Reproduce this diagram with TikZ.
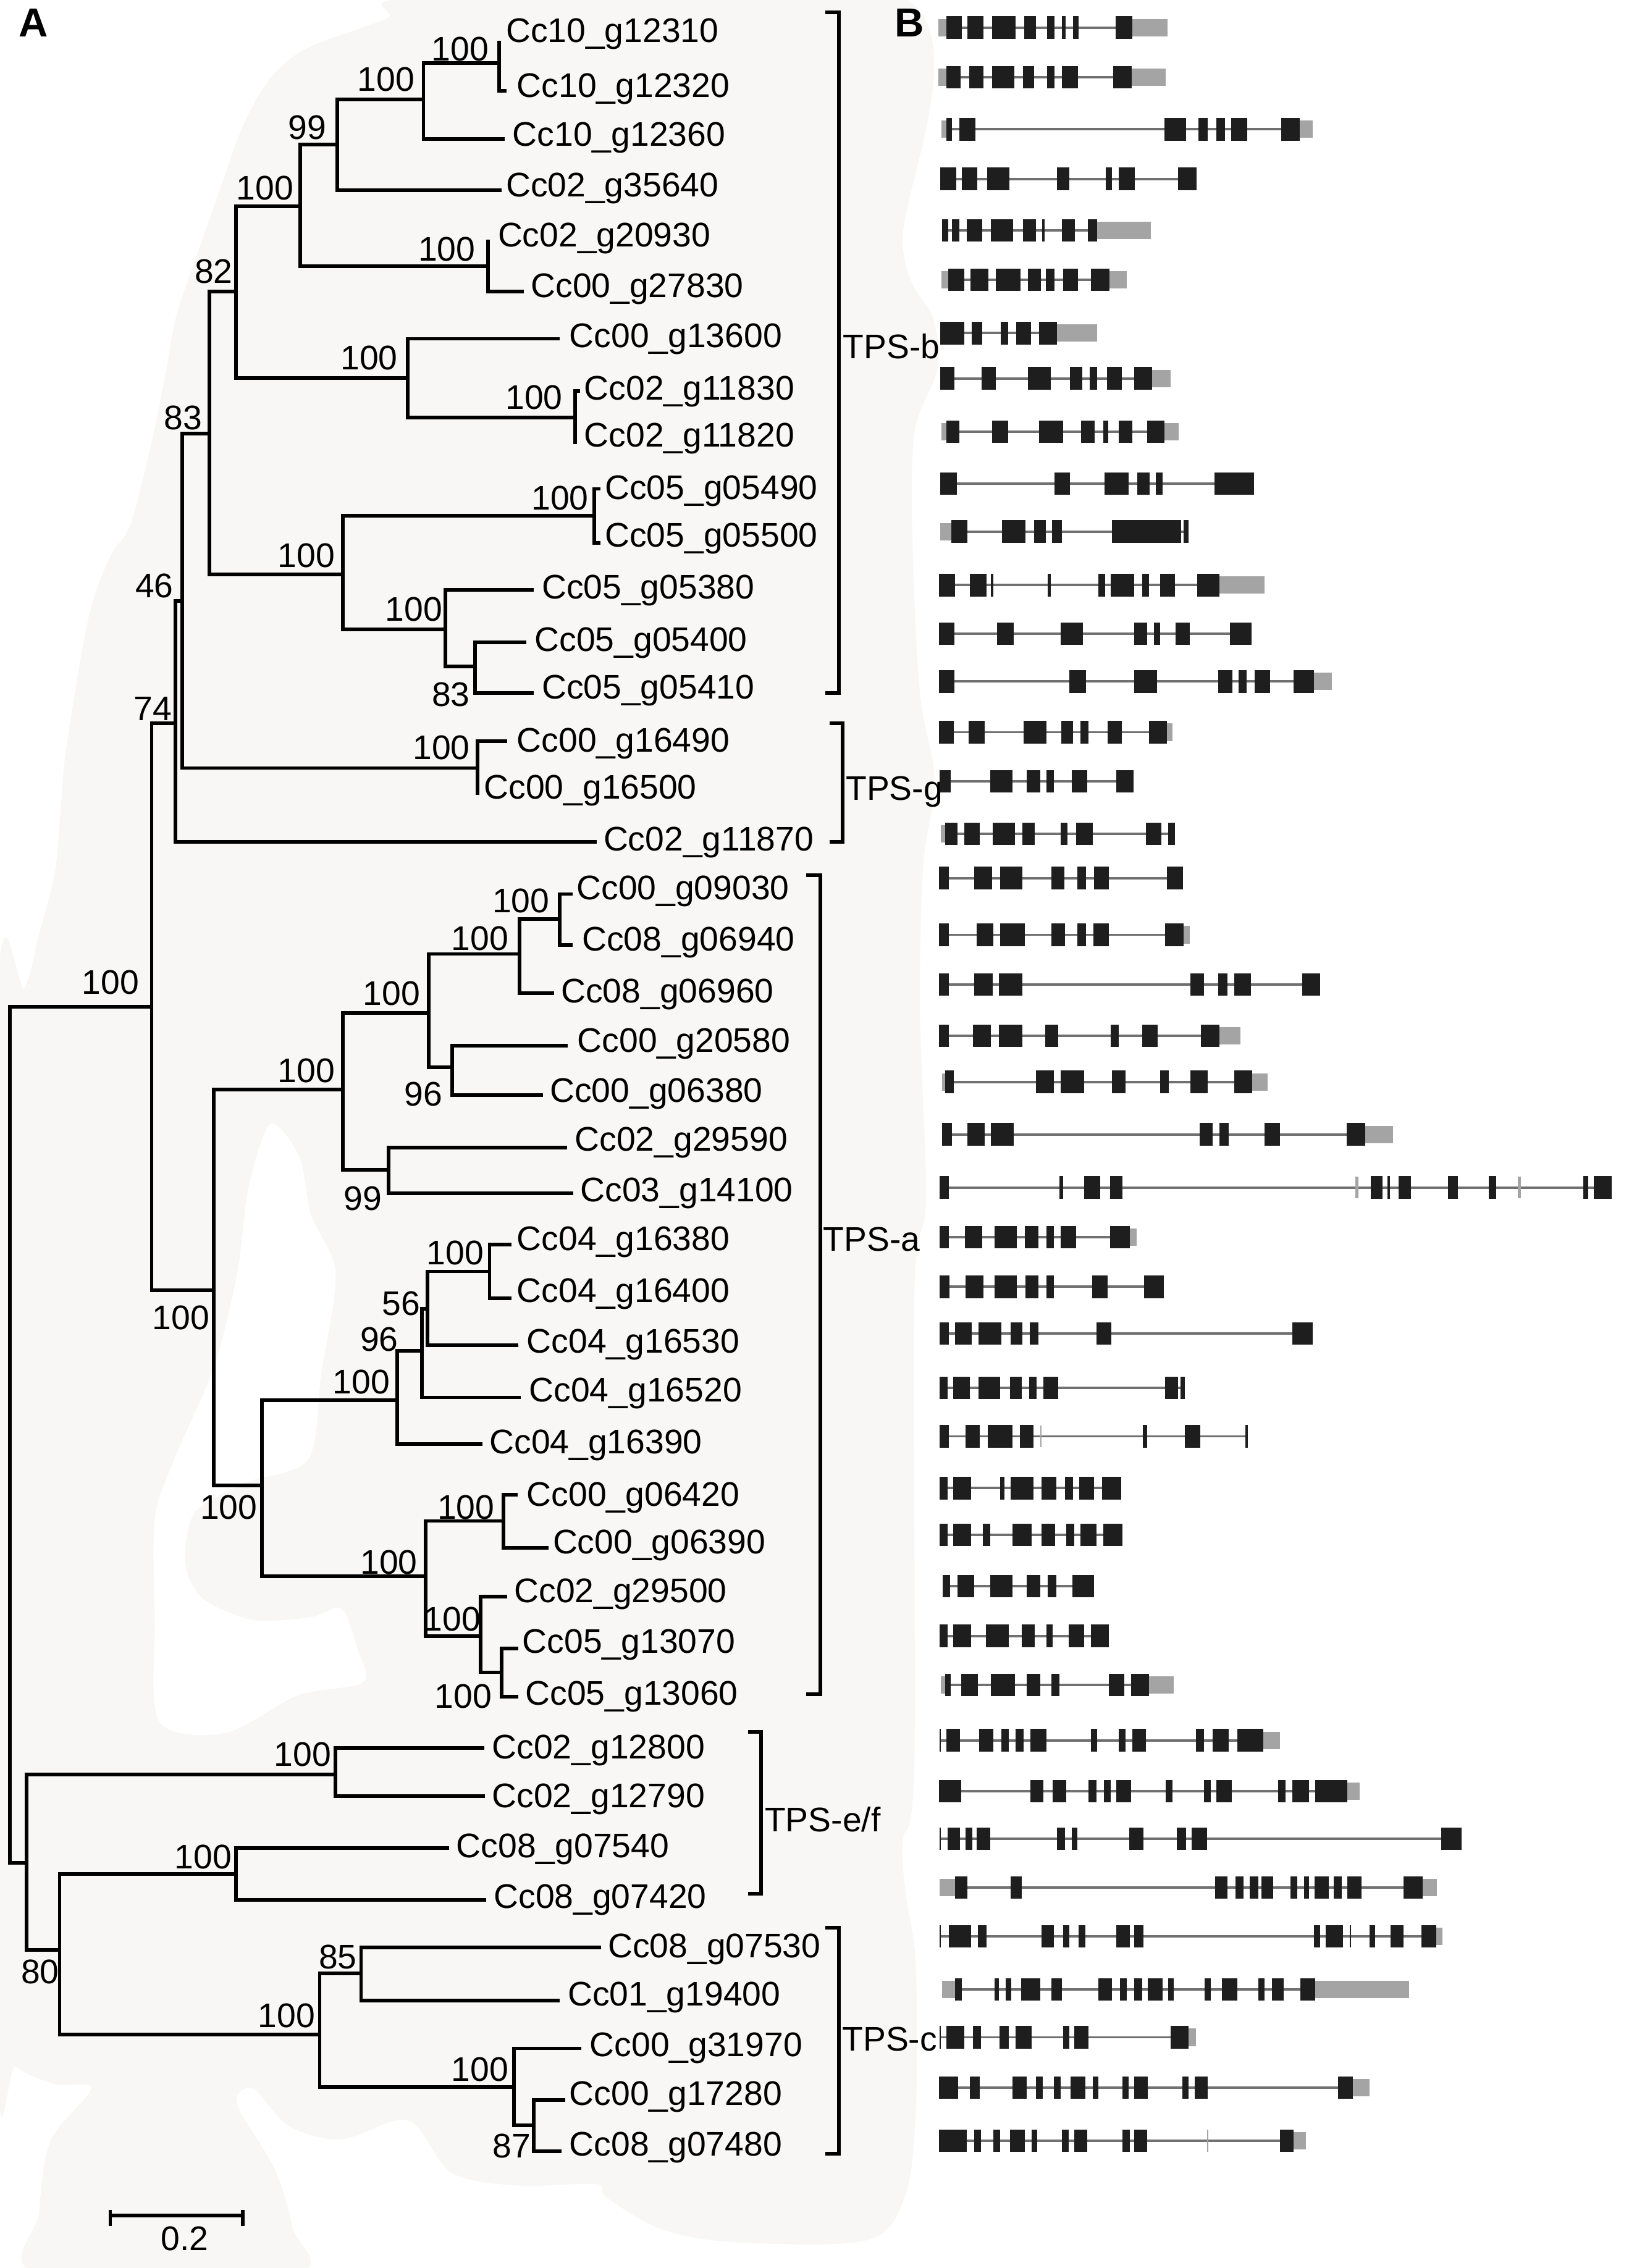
\documentclass[tikz,border=0pt]{standalone}
\usepackage{fontspec}
\setmainfont{Liberation Sans}
\definecolor{bgc}{HTML}{F8F7F5}
\definecolor{exonc}{HTML}{1E1E1E}
\definecolor{utrc}{HTML}{A4A4A4}
\definecolor{intronc}{HTML}{707070}
\newcommand\lblfont{\fontsize{23.6pt}{28pt}\selectfont}
\newcommand\panelfont{\fontsize{28pt}{30pt}\selectfont\bfseries}
\newcommand\genrow[4]{%
  \draw[intron] (#2,#1) -- (#3,#1);
  \foreach \a/\b in {#4} {\fill[exon] (\a,#1-7.8) rectangle (\b,#1+7.8);}}
\newcommand\utr[3]{\fill[utr] (#2,#1-6) rectangle (#3,#1+6);}
\begin{document}
\begin{tikzpicture}[x=1pt,y=-1pt,
  br/.style={line width=2.5pt,black},
  lab/.style={inner sep=0pt,anchor=base west,font=\lblfont},
  bs/.style={inner sep=0pt,anchor=base east,font=\lblfont},
  exon/.style={fill=exonc},
  utr/.style={fill=utrc},
  intron/.style={draw=intronc,line width=1.6pt}]
\useasboundingbox (0,0) rectangle (1126,1568);
\fill[white] (0,0) rectangle (1126,1568);
% light background
\fill[bgc] plot[smooth cycle,tension=0.55] coordinates {(293,-2) (624,-2) (624,170) (645,220) (648,255) (632,300) (631,384) (636,480) (646,540) (638,600) (636,700) (640,830) (632,896) (632,1220) (624,1273) (626,1309) (633,1358) (633,1460) (625,1520) (598,1549) (507,1550) (457,1541) (419,1519) (412,1510) (358,1511) (312,1502) (282,1466) (236,1479) (200,1470) (175,1444) (164,1455) (190,1500) (202,1540) (203,1572) (27,1572) (27,1530) (35,1480) (63,1444) (38,1441) (11,1429) (-2,1410) (-2,700) (17,683) (27,646) (38,603) (42,559) (46,516) (61,428) (76,385) (90,363) (105,305) (114,261) (122,218) (137,174) (152,131) (168,87) (187,54) (213,33) (267,13)};
\fill[white] plot[smooth cycle,tension=0.5] coordinates {(187,777) (207,800) (215,840) (232,880) (222,950) (213,1009) (170,1025) (135,1045) (128,1080) (140,1105) (175,1120) (215,1118) (236,1112) (247,1140) (251,1163) (206,1172) (156,1198) (110,1190) (107,1120) (107,1050) (120,1010) (148,945) (164,880) (172,820)};

% panel letters
\node[inner sep=0pt,anchor=base west,font=\panelfont] (pA) at (13,25.5) {A};
\node[inner sep=0pt,anchor=base west,font=\panelfont] (pB) at (618.5,25.5) {B};

% leaf coordinates
\coordinate (L1) at (345,28);
\coordinate (L2) at (350,62.7);
\coordinate (L3) at (348.7,95.9);
\coordinate (L4) at (346.8,131.4);
\coordinate (L5) at (337.3,165.6);
\coordinate (L6) at (362,201.5);
\coordinate (L7) at (386.8,234.2);
\coordinate (L8) at (401,270.2);
\coordinate (L9) at (397.5,307.2);
\coordinate (L10) at (415,338);
\coordinate (L11) at (415,375.2);
\coordinate (L12) at (369,407.8);
\coordinate (L13) at (364,444.2);
\coordinate (L14) at (369,479);
\coordinate (L15) at (350.6,512.4);
\coordinate (L16) at (330,549.5);
\coordinate (L17) at (412.7,582.1);
\coordinate (L18) at (396,618.1);
\coordinate (L19) at (396,653.4);
\coordinate (L20) at (383,686.8);
\coordinate (L21) at (392.5,722.8);
\coordinate (L22) at (375.4,757);
\coordinate (L23) at (391.8,793.4);
\coordinate (L24) at (396.3,825);
\coordinate (L25) at (353.7,860.5);
\coordinate (L26) at (353.7,897.5);
\coordinate (L27) at (358.2,930.2);
\coordinate (L28) at (360,966.1);
\coordinate (L29) at (333.5,998.4);
\coordinate (L30) at (358,1033.5);
\coordinate (L31) at (379,1070.1);
\coordinate (L32) at (350.6,1103.8);
\coordinate (L33) at (358.2,1139.8);
\coordinate (L34) at (358.2,1172.9);
\coordinate (L35) at (334.6,1208.4);
\coordinate (L36) at (335.4,1241.7);
\coordinate (L37) at (310.6,1277.5);
\coordinate (L38) at (336.1,1313.6);
\coordinate (L39) at (415.4,1346.2);
\coordinate (L40) at (386.8,1383.1);
\coordinate (L41) at (402,1416.2);
\coordinate (L42) at (390.6,1452);
\coordinate (L43) at (388,1487.4);
% internal nodes
\coordinate (na) at (345,43.6);
\coordinate (nb) at (292.7,68.6);
\coordinate (nc) at (233.2,99.8);
\coordinate (nd) at (207.7,142.7);
\coordinate (ne) at (337.3,184.1);
\coordinate (nf) at (163.1,201.5);
\coordinate (ng) at (282,261.4);
\coordinate (nh) at (397.5,288.7);
\coordinate (ni) at (144.8,299.6);
\coordinate (nl) at (410.8,356.6);
\coordinate (nm) at (237,397);
\coordinate (nn) at (308,435.1);
\coordinate (no) at (328.5,460.8);
\coordinate (np) at (125.8,415.5);
\coordinate (nq) at (121.2,500);
\coordinate (nr) at (330,531);
\coordinate (ns) at (104.8,696);
\coordinate (nt) at (386.8,635.5);
\coordinate (nu) at (359,659.5);
\coordinate (nv) at (296.5,700.3);
\coordinate (nw) at (312.5,737.8);
\coordinate (nx) at (237,753.1);
\coordinate (nyy) at (268.7,808.8);
\coordinate (nz) at (147.9,892.1);
\coordinate (nab) at (338.4,879);
\coordinate (nac) at (295.4,905);
\coordinate (nad) at (291.5,933.9);
\coordinate (nae) at (274.4,967.9);
\coordinate (naf) at (181,1027);
\coordinate (nag) at (294.2,1089.7);
\coordinate (nah) at (348,1051.5);
\coordinate (nai) at (332.3,1131);
\coordinate (naj) at (346.8,1156.1);
\coordinate (nak) at (231.7,1226.9);
\coordinate (nal) at (18.3,1288);
\coordinate (nam) at (163.1,1295.5);
\coordinate (nan) at (41.2,1348);
\coordinate (nao) at (221,1406.4);
\coordinate (nap) at (249.6,1364.4);
\coordinate (naq) at (355.2,1443);
\coordinate (nar) at (368.9,1469.5);
\coordinate (nroot) at (6.9,992);

% branches
\draw[br] (L1) -| (na) |- (L2);
\draw[br] (na) -| (nb) |- (L3);
\draw[br] (nb) -| (nc) |- (L4);
\draw[br] (L5) -| (ne) |- (L6);
\draw[br] (nc) -| (nd) |- (ne);
\draw[br] (L8) -| (nh) |- (L9);
\draw[br] (L7) -| (ng) |- (nh);
\draw[br] (nd) -| (nf) |- (ng);
\draw[br] (L10) -| (nl) |- (L11);
\draw[br] (L13) -| (no) |- (L14);
\draw[br] (L12) -| (nn) |- (no);
\draw[br] (nl) -| (nm) |- (nn);
\draw[br] (nf) -| (ni) |- (nm);
\draw[br] (L15) -| (nr) |- (L16);
\draw[br] (ni) -| (np) |- (nr);
\draw[br] (np) -| (nq) |- (L17);
\draw[br] (L18) -| (nt) |- (L19);
\draw[br] (nt) -| (nu) |- (L20);
\draw[br] (L21) -| (nw) |- (L22);
\draw[br] (nu) -| (nv) |- (nw);
\draw[br] (L23) -| (nyy) |- (L24);
\draw[br] (nv) -| (nx) |- (nyy);
\draw[br] (L25) -| (nab) |- (L26);
\draw[br] (nab) -| (nac) |- (L27);
\draw[br] (nac) -| (nad) |- (L28);
\draw[br] (nad) -| (nae) |- (L29);
\draw[br] (L30) -| (nah) |- (L31);
\draw[br] (L33) -| (naj) |- (L34);
\draw[br] (L32) -| (nai) |- (naj);
\draw[br] (nah) -| (nag) |- (nai);
\draw[br] (nae) -| (naf) |- (nag);
\draw[br] (nx) -| (nz) |- (naf);
\draw[br] (nq) -| (ns) |- (nz);
\draw[br] (L35) -| (nak) |- (L36);
\draw[br] (L37) -| (nam) |- (L38);
\draw[br] (L39) -| (nap) |- (L40);
\draw[br] (L42) -| (nar) |- (L43);
\draw[br] (L41) -| (naq) |- (nar);
\draw[br] (nap) -| (nao) |- (naq);
\draw[br] (nam) -| (nan) |- (nao);
\draw[br] (nak) -| (nal) |- (nan);
\draw[br] (ns) -| (nroot) |- (nal);

% leaf labels
\node[lab] (t1) at (349.6,29.1) {Cc10\_g12310};
\node[lab] (t2) at (357.2,67.2) {Cc10\_g12320};
\node[lab] (t3) at (354.2,101) {Cc10\_g12360};
\node[lab] (t4) at (349.6,135.9) {Cc02\_g35640};
\node[lab] (t5) at (344,170.4) {Cc02\_g20930};
\node[lab] (t6) at (366.8,205.6) {Cc00\_g27830};
\node[lab] (t7) at (393.4,240.4) {Cc00\_g13600};
\node[lab] (t8) at (403.7,276.4) {Cc02\_g11830};
\node[lab] (t9) at (403.7,309.1) {Cc02\_g11820};
\node[lab] (t10) at (418,345.4) {Cc05\_g05490};
\node[lab] (t11) at (418,378.1) {Cc05\_g05500};
\node[lab] (t12) at (374.4,414.1) {Cc05\_g05380};
\node[lab] (t13) at (369.4,450.4) {Cc05\_g05400};
\node[lab] (t14) at (374.4,483.1) {Cc05\_g05410};
\node[lab] (t15) at (357.2,519.7) {Cc00\_g16490};
\node[lab] (t16) at (334.4,552.4) {Cc00\_g16500};
\node[lab] (t17) at (417,588.3) {Cc02\_g11870};
\node[lab] (t18) at (398.4,622.1) {Cc00\_g09030};
\node[lab] (t19) at (402.2,657.4) {Cc08\_g06940};
\node[lab] (t20) at (387.7,693.4) {Cc08\_g06960};
\node[lab] (t21) at (399,727.2) {Cc00\_g20580};
\node[lab] (t22) at (380,762.1) {Cc00\_g06380};
\node[lab] (t23) at (397.2,795.9) {Cc02\_g29590};
\node[lab] (t24) at (401,830.7) {Cc03\_g14100};
\node[lab] (t25) at (357.2,864.5) {Cc04\_g16380};
\node[lab] (t26) at (357.2,900.5) {Cc04\_g16400};
\node[lab] (t27) at (364,935.3) {Cc04\_g16530};
\node[lab] (t28) at (365.6,969.1) {Cc04\_g16520};
\node[lab] (t29) at (338.2,1005) {Cc04\_g16390};
\node[lab] (t30) at (364,1041.4) {Cc00\_g06420};
\node[lab] (t31) at (382,1074.1) {Cc00\_g06390};
\node[lab] (t32) at (355.3,1107.9) {Cc02\_g29500};
\node[lab] (t33) at (361,1142.7) {Cc05\_g13070};
\node[lab] (t34) at (363,1178.7) {Cc05\_g13060};
\node[lab] (t35) at (340,1215.7) {Cc02\_g12800};
\node[lab] (t36) at (340,1249.5) {Cc02\_g12790};
\node[lab] (t37) at (315.3,1284.4) {Cc08\_g07540};
\node[lab] (t38) at (341.2,1319.2) {Cc08\_g07420};
\node[lab] (t39) at (420.1,1353.3) {Cc08\_g07530};
\node[lab] (t40) at (392.3,1386.8) {Cc01\_g19400};
\node[lab] (t41) at (407.5,1421.8) {Cc00\_g31970};
\node[lab] (t42) at (393.4,1455.3) {Cc00\_g17280};
\node[lab] (t43) at (393.4,1490.4) {Cc08\_g07480};

% bootstrap values
\node[bs] (ba) at (338,42.2) {100};
\node[bs] (bb) at (286.8,62.9) {100};
\node[bs] (bc) at (225.8,96.4) {99};
\node[bs] (bd) at (203,138) {100};
\node[bs] (be) at (328.7,180.4) {100};
\node[bs] (bf) at (161,195.8) {82};
\node[bs] (bg) at (275,255.7) {100};
\node[bs] (bh) at (389,282.9) {100};
\node[bs] (bi) at (140,297.1) {83};
\node[bs] (bl) at (407,352.4) {100};
\node[bs] (bm) at (231.6,392.3) {100};
\node[bs] (bn) at (305.9,429.3) {100};
\node[bs] (bo) at (325,488.1) {83};
\node[bs] (bp) at (120,413) {46};
\node[bs] (bq) at (119,497.9) {74};
\node[bs] (br) at (325,525.2) {100};
\node[bs] (bsn) at (96.3,687.4) {100};
\node[bs] (bt) at (380,630.8) {100};
\node[bs] (bu) at (351.6,657) {100};
\node[bs] (bv) at (290.6,695) {100};
\node[bs] (bw) at (306,764.4) {96};
\node[bs] (bx) at (231.6,748.4) {100};
\node[bs] (byy) at (264,836.8) {99};
\node[bs] (bz) at (145,919) {100};
\node[bs] (bab) at (334.5,874.3) {100};
\node[bs] (bac) at (290.6,909.2) {56};
\node[bs] (bad) at (275.4,934.2) {96};
\node[bs] (bae) at (269.7,963.6) {100};
\node[bs] (baf) at (178,1050.1) {100};
\node[bs] (bag) at (288.7,1088.3) {100};
\node[bs] (bah) at (342,1050.1) {100};
\node[bs] (bai) at (332.5,1127.4) {100};
\node[bs] (baj) at (340,1180.8) {100};
\node[bs] (bak) at (229,1221.2) {100};
\node[bs] (bam) at (160.3,1292) {100};
\node[bs] (ban) at (41,1371.2) {80};
\node[bs] (bao) at (218,1401.6) {100};
\node[bs] (bap) at (246.8,1361.1) {85};
\node[bs] (baq) at (351.6,1439) {100};
\node[bs] (bar) at (366.9,1491.9) {87};

% clade brackets
\draw[br] (570.5,8.7) -- (580,8.7) -- (580,479) -- (570.5,479);
\draw[br] (573.5,500) -- (582.3,500) -- (582.3,582.1) -- (573.5,582.1);
\draw[br] (557.2,605) -- (567,605) -- (567,1171.4) -- (557.2,1171.4);
\draw[br] (517,1197.5) -- (526,1197.5) -- (526,1309.3) -- (517,1309.3);
\draw[br] (570.5,1332.8) -- (580,1332.8) -- (580,1489) -- (570.5,1489);
\node[lab] (cb) at (582.5,248) {TPS-b};
\node[lab] (cg) at (584.5,553.4) {TPS-g};
\node[lab] (ca) at (569,865) {TPS-a};
\node[lab] (cef) at (528.5,1266.4) {TPS-e/f};
\node[lab] (cc) at (582,1418) {TPS-c};

% scale bar
\draw[br] (76.2,1528) -- (76.2,1539);
\draw[br] (167.7,1528) -- (167.7,1539);
\draw[br] (76.2,1531.8) -- (167.7,1531.8);
\node[inner sep=0pt,anchor=base,font=\lblfont] (scl) at (127.7,1555.8) {0.2};

% gene structures
\utr{19.1}{648.7}{654.1}\utr{19.1}{782.8}{807.1}
\genrow{19.1}{654.1}{782.8}{654.1/664.9,668.9/680,685.8/702,708/716.1,723.8/728.9,734/736.6,741.7/745.7,771/782.8}
\utr{53.4}{648.7}{654.1}\utr{53.4}{782.1}{805.7}
\genrow{53.4}{654.1}{782.1}{654.1/664.2,669.9/680,685.8/701.3,707.3/714.8,723.8/728.9,734/745.1,769.3/782.1}
\utr{89.4}{650.7}{654.1}\utr{89.4}{898.4}{907.5}
\genrow{89.4}{654.1}{898.4}{654.1/658.1,663.2/674.3,805/819.9,828.3/835,840.8/846.8,850.9/862,885.6/898.4}
\genrow{123.7}{649.7}{827.3}{649.7/660.8,664.9/675.7,682.4/697.9,730.6/739,764.3/768.7,773.4/784.5,814.1/827.3}
\utr{159.2}{758.5}{795.6}
\genrow{159.2}{651.4}{758.5}{651.4/655.5,658.1/663.2,668.3/679,685.1/700.3,707/716.1,720.5/722.2,734/743.1,751.8/758.5}
\utr{193.5}{650.7}{655.5}\utr{193.5}{767}{778.8}
\genrow{193.5}{655.5}{767}{655.5/666.6,671/683.4,688.5/705.3,710.4/719.5,722.8/728.9,735/745.1,754.2/767}
\utr{230.3}{730.6}{758.5}
\genrow{230.3}{649.7}{730.6}{649.7/666.6,671.6/679,691.8/696.9,702.6/712.7,718.1/730.6}
\utr{261.6}{796.3}{809.1}
\genrow{261.6}{649.7}{796.3}{649.7/659.8,678.4/688.5,710.4/726.2,739.7/748.1,753.2/758.5,765/775.4,783.8/796.3}
\utr{298.4}{650.7}{654.1}\utr{298.4}{804.7}{814.8}
\genrow{298.4}{654.1}{804.7}{654.1/663.2,685.8/696.9,718.1/735,747.4/756.5,762.6/766,773.4/782.8,792.9/804.7}
\genrow{334.4}{649.7}{867}{649.7/661.5,728.9/739.7,763.3/780.1,786.2/794.6,799/803.7,839.4/867}
\utr{367.5}{649.7}{657.5}
\genrow{367.5}{657.5}{821.6}{657.5/668.9,692.5/708.7,714.7/722.8,727.2/734,768.7/816.5,818.2/821.6}
\utr{404.5}{843}{874}
\genrow{404.5}{648.9}{843}{648.9/660.3,670.6/682,685.1/686.7,724.4/726.3,759.4/764.1,767.8/784.2,789.5/794.4,801.9/812.1,827.6/843}
\genrow{438.1}{648.9}{865}{648.9/659.7,689.1/700.6,733.1/748.6,784.2/792.9,797.5/801.9,812.7/822.3,850.2/865}
\utr{471.1}{908.1}{920.5}
\genrow{471.1}{648.9}{908.1}{648.9/659.7,739.3/750.8,784.2/799.7,842.1/851.7,856/861.6,867.2/878,894.1/908.1}
\utr{506.2}{806.5}{810.5}
\genrow{506.2}{648.9}{806.5}{648.9/659.4,669.6/680.5,707.7/723.2,733.7/741.8,747/752.3,765.6/775.5,794.1/806.5}
\genrow{540.2}{649.5}{783.6}{649.5/657.2,684.5/700,709.9/719.2,723.2/728.5,740.9/751.7,771.8/783.6}
\utr{576.5}{650.4}{653.2}
\genrow{576.5}{653.2}{812.1}{653.2/661.9,666.5/677.4,686/701.5,706.8/715.1,733.1/737.8,744/755.4,791.9/802.8,807.4/812.1}
\genrow{607.1}{648.9}{817.7}{648.9/655.7,673.6/685.7,691.3/706.8,726.9/735.6,744.9/750.8,756.3/766.6,806.5/817.7}
\utr{646.3}{818.3}{822.3}
\genrow{646.3}{648.9}{818.3}{648.9/655.7,675.2/686.7,691.3/708.3,726.9/736.2,744.9/750.8,755.7/766.6,805.3/818.3}
\genrow{680.6}{648.9}{912.7}{648.9/655.7,673.6/686,690.4/706.8,822.9/832.2,842.1/848.3,853.3/864.7,900.3/912.7}
\utr{716.1}{843}{857.6}
\genrow{716.1}{648.9}{843}{648.9/655.7,672.7/685.1,690.4/706.8,722.3/731.6,767.8/773.4,789.5/800.3,830/843}
\utr{748}{651}{653.2}\utr{748}{865.7}{876.2}
\genrow{748}{653.2}{865.7}{653.2/659.4,716.1/728.5,733.1/749.2,768.7/778,801.9/808.1,822.9/834.7,853.3/865.7}
\utr{784.3}{943.7}{962.9}
\genrow{784.3}{651}{943.7}{651/657.9,668.7/680.5,685.1/700.6,829.1/838.4,843/849.2,874/884.9,930.7/943.7}
\genrow{821}{649.5}{1114}{649.5/655.7,732.2/734.7,749.5/760.4,767.2/775.8,947.7/955.5,959.2/960.7,966.9/975.3,1001/1007.8,1028.9/1034.4,1094.5/1097.9,1101.6/1114}
\fill[utr] (936.9,821-7.6) rectangle (939.1,821+7.6);
\fill[utr] (1049,821-7.6) rectangle (1051.2,821+7.6);
\utr{855.3}{781.1}{785.8}
\genrow{855.3}{649.5}{781.1}{649.5/655.7,667.1/678.9,687.3/702.8,708.3/717.6,723.2/728.5,733.1/743.9,767.2/781.1}
\genrow{889.6}{649.5}{804.3}{649.5/656.3,667.5/679.8,687.3/702.8,709/717.6,723.2/728.5,754.8/765.6,791/804.3}
\genrow{921.9}{649.5}{907.2}{649.5/655.7,660.3/671.8,676.4/692.2,698.4/706.8,712/717.6,757.9/768.1,893.5/907.2}
\genrow{959.4}{649.5}{819.2}{649.5/655.1,658.8/670.6,676.4/691.3,698.1/706.2,711.4/716.7,721.3/731.6,805.3/814.2,816.1/819.2}
\genrow{993}{649.5}{862.6}{649.5/655.7,667.5/677.4,682.9/699.7,705.2/714.5,789.8/792.9,819.2/829.7,860.7/862.6}
\fill[utr] (719.2,993-7.6) rectangle (720.1,993+7.6);
\genrow{1028.8}{649.5}{774.9}{649.5/655.1,658.8/671.2,691.3/694.4,698.4/714.5,720.1/730,736.2/741.8,746.1/756.3,761.6/774.9}
\genrow{1061.1}{649.5}{775.8}{649.5/655.1,658.8/671.2,679.5/684.5,699.7/713,720.1/729.4,737.1/742.4,747/757.9,762.5/775.8}
\genrow{1096.6}{651.7}{756.3}{651.7/656.6,661.9/673.6,684.5/700,709.9/719.2,724.4/730,741.5/756.3}
\genrow{1131}{649.5}{766.6}{649.5/655.1,658.8/671.2,681.4/697.5,706.2/715.1,723.2/727.8,738.7/749.2,753.9/766.6}
\utr{1164.8}{650.4}{653.2}\utr{1164.8}{794.4}{811.2}
\genrow{1164.8}{653.2}{794.4}{653.2/657.2,664.4/675.8,685.1/701.5,709.9/719.2,726.9/732.5,766.6/777.1,782/794.4}
\utr{1203.2}{873.1}{884.9}
\genrow{1203.2}{649.5}{873.1}{649.5/650.5,654.1/663.4,676.7/686.7,692.2/697.5,702.1/707.7,712.4/723.2,753.9/758.5,773.4/778,782.7/791.9,826.9/832.2,838.4/849.2,855.4/873.1}
\utr{1238.3}{931.3}{940}
\genrow{1238.3}{648.9}{931.3}{648.9/664.4,712.4/721.3,727.8/737.1,752.6/757.9,763.1/767.8,771.8/782,805.9/810.5,832.2/836.9,840.9/851.4,883.3/888.6,893.5/905,909/931.3}
\genrow{1271.3}{649.5}{1010.3}{649.5/650.5,655.1/663.4,667.5/672.1,674.9/684.5,730.6/736.2,740.9/744.6,780.5/790.4,813.6/819.8,823.9/834.4,996.3/1010.3}
\utr{1304.9}{649.5}{660.3}\utr{1304.9}{983.3}{993.3}
\genrow{1304.9}{660.3}{983.3}{660.3/668.7,698.4/706.2,840/848.3,853.9/859.5,863.8/870,871.9/880.2,892/896.6,901.3/905,908.7/918.3,922/927.6,931.3/941.2,970/983.3}
\utr{1338.7}{992.6}{997}
\genrow{1338.7}{649.5}{992.6}{649.5/650.5,655.7/671.2,675.8/682,720.1/728.5,734.7/739.3,745.5/750.1,771.8/781.1,784.2/790.4,908.1/912.7,916.4/928.2,932.9/933.8,946.8/950.5,961.4/970,982.4/992.6}
\utr{1375.4}{651}{660.3}\utr{1375.4}{909}{974}
\genrow{1375.4}{660.3}{909}{660.3/665,687.3/690.4,695.3/699,705.9/719.2,726.9/734,759.4/768.7,774/779,784.2/789.5,793.5/803.7,807.4/811.2,832.8/836.9,844.6/855.4,870/874,879.3/887.3,898.8/909}
\utr{1408.5}{821.4}{826.6}
\genrow{1408.5}{649.5}{821.4}{649.5/650.5,654.1/666.5,672.7/678,690.7/697.5,702.1/713,734.7/739.3,742.4/752.3,809/821.4}
\utr{1443.3}{935}{946.8}
\genrow{1443.3}{648.9}{935}{648.9/662.5,670.6/677.4,700/709.9,716.1/720.7,728.5/733.1,739.9/750.1,755.4/759.4,775.8/780.2,784.2/793.5,817.3/821.4,826/834.7,925.1/935}
\utr{1480.1}{894.1}{902.8}
\genrow{1480.1}{648.9}{894.1}{648.9/668.1,673.6/678.3,686.7/691.3,698.1/708.3,713/717,734/738.7,742.4/751.7,775.8/781.1,784.2/792.9,884.9/894.1}
\fill[utr] (834.4,1480.1-7.6) rectangle (835.3,1480.1+7.6);
\end{tikzpicture}
\end{document}
